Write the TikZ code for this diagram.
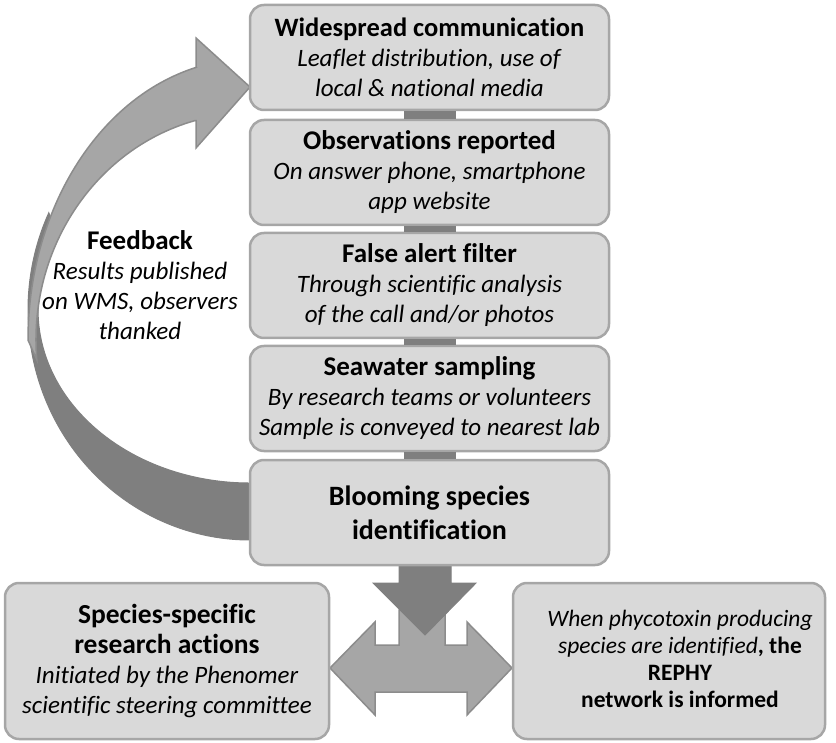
\documentclass[tikz,border=0pt]{standalone}
\usepackage{fontspec}
\setmainfont{Carlito}[Ligatures={NoCommon}]
\usetikzlibrary{positioning}
\definecolor{boxfill}{HTML}{D9D9D9}
\definecolor{boxline}{HTML}{A6A6A6}
\definecolor{arrowlight}{HTML}{A6A6A6}
\definecolor{arrowdark}{HTML}{7F7F7F}
\definecolor{arrowline}{HTML}{8C8C8C}
\newcommand{\headline}[2][27]{{\fontsize{#1}{30}\selectfont\bfseries #2}}
\tikzset{
    box/.style={
        draw=boxline,
        fill=boxfill,
        line width=2.5pt,
        rounded corners=14pt,
        align=center,
        inner sep=0pt,
        font=\fontsize{25}{30}\selectfont
    },
    stagebox/.style={
        box,
        minimum width=359pt,
        minimum height=105pt
    },
    sidebox/.style={
        box,
        minimum height=156pt
    },
    bar/.style={
        draw=arrowdark,
        line width=52pt
    },
    lightarrow/.style={
        fill=arrowlight,
        draw=arrowline,
        line width=1.5pt,
        line join=miter
    },
    darkarrow/.style={
        fill=arrowdark,
        draw=arrowdark,
        line width=1pt
    }
}

\begin{document}
\begin{tikzpicture}[x=1pt, y=-1pt]
    \useasboundingbox (0, 0) rectangle (836, 743);

    % feedback arrow, back face then front face
    \path [darkarrow]
        (250, 540) arc [start angle=90, end angle=205, x radius=222, y radius=230]
        -- (57.9, 236.9)
        arc [start angle=205, end angle=90, x radius=212, y radius=173]
        -- cycle;
    \path [lightarrow]
        (28, 340) arc [start angle=180, end angle=256, x radius=222, y radius=281]
        -- (196, 67) -- (196, 38) -- (250, 87) -- (196, 148) -- (196, 120.7)
        -- (194.6, 120.7)
        arc [start angle=255, end angle=175, x radius=214, y radius=227]
        -- cycle;

    % split arrow below the last stage
    \path [lightarrow]
        (330, 668) -- (375, 622) -- (375, 645) -- (399, 645) -- (399, 610)
        -- (445, 610) -- (445, 645) -- (467, 645) -- (467, 622) -- (512, 668)
        -- (467, 715) -- (467, 692) -- (375, 692) -- (375, 715) -- cycle;
    \path [darkarrow]
        (399, 563) -- (451, 563) -- (451, 583) -- (476, 583) -- (425, 635)
        -- (373, 583) -- (399, 583) -- cycle;

    \node [stagebox] (comm) at (429.5, 57.5)
        {\headline[26.5]{Widespread communication}\\
         \textit{Leaflet distribution, use of}\\
         \textit{local \& national media}};
    \node [stagebox] (obs) at (429.5, 172.5)
        {\headline{Observations reported}\\
         \textit{On answer phone, smartphone}\\
         \textit{app website}};
    \node [stagebox] (filter) at (429.5, 285.5)
        {\headline{False alert filter}\\
         \textit{Through scientific analysis}\\
         \textit{of the call and/or photos}};
    \node [stagebox] (sampling) at (429.5, 398.5)
        {\headline{Seawater sampling}\\
         \textit{By research teams or volunteers}\\
         \textit{Sample is conveyed to nearest lab}};
    \node [stagebox, font=\fontsize{28}{34}\selectfont] (ident) at (429.5, 512.5)
        {\textbf{Blooming species}\\
         \textbf{identification}};

    \foreach \from/\to in {comm/obs, obs/filter, filter/sampling, sampling/ident} {
        \draw [bar] (\from.south) -- (\to.north);
    }

    \node [sidebox, minimum width=324pt] (research) at (167, 661)
        {\headline[27.5]{Species-specific}\\
         \headline[27.5]{research actions}\\
         \textit{Initiated by the Phenomer}\\
         \textit{scientific steering committee}};
    \node [sidebox, minimum width=312pt,
        label={[xshift=11pt, yshift=2pt, align=center, font=\fontsize{23.5}{27}\selectfont]center:{%
            \textit{When phycotoxin producing}\\
            \textit{species are identified}\textbf{, the}\\
            \textbf{REPHY}\\
            \textbf{network is informed}}}] (rephy) at (669, 661) {};

    \node [align=center, font=\fontsize{25}{30}\selectfont] (feedback) at (140, 285)
        {\headline{Feedback}\\
         \textit{Results published}\\
         \textit{on WMS, observers}\\
         \textit{thanked}};
\end{tikzpicture}
\end{document}
